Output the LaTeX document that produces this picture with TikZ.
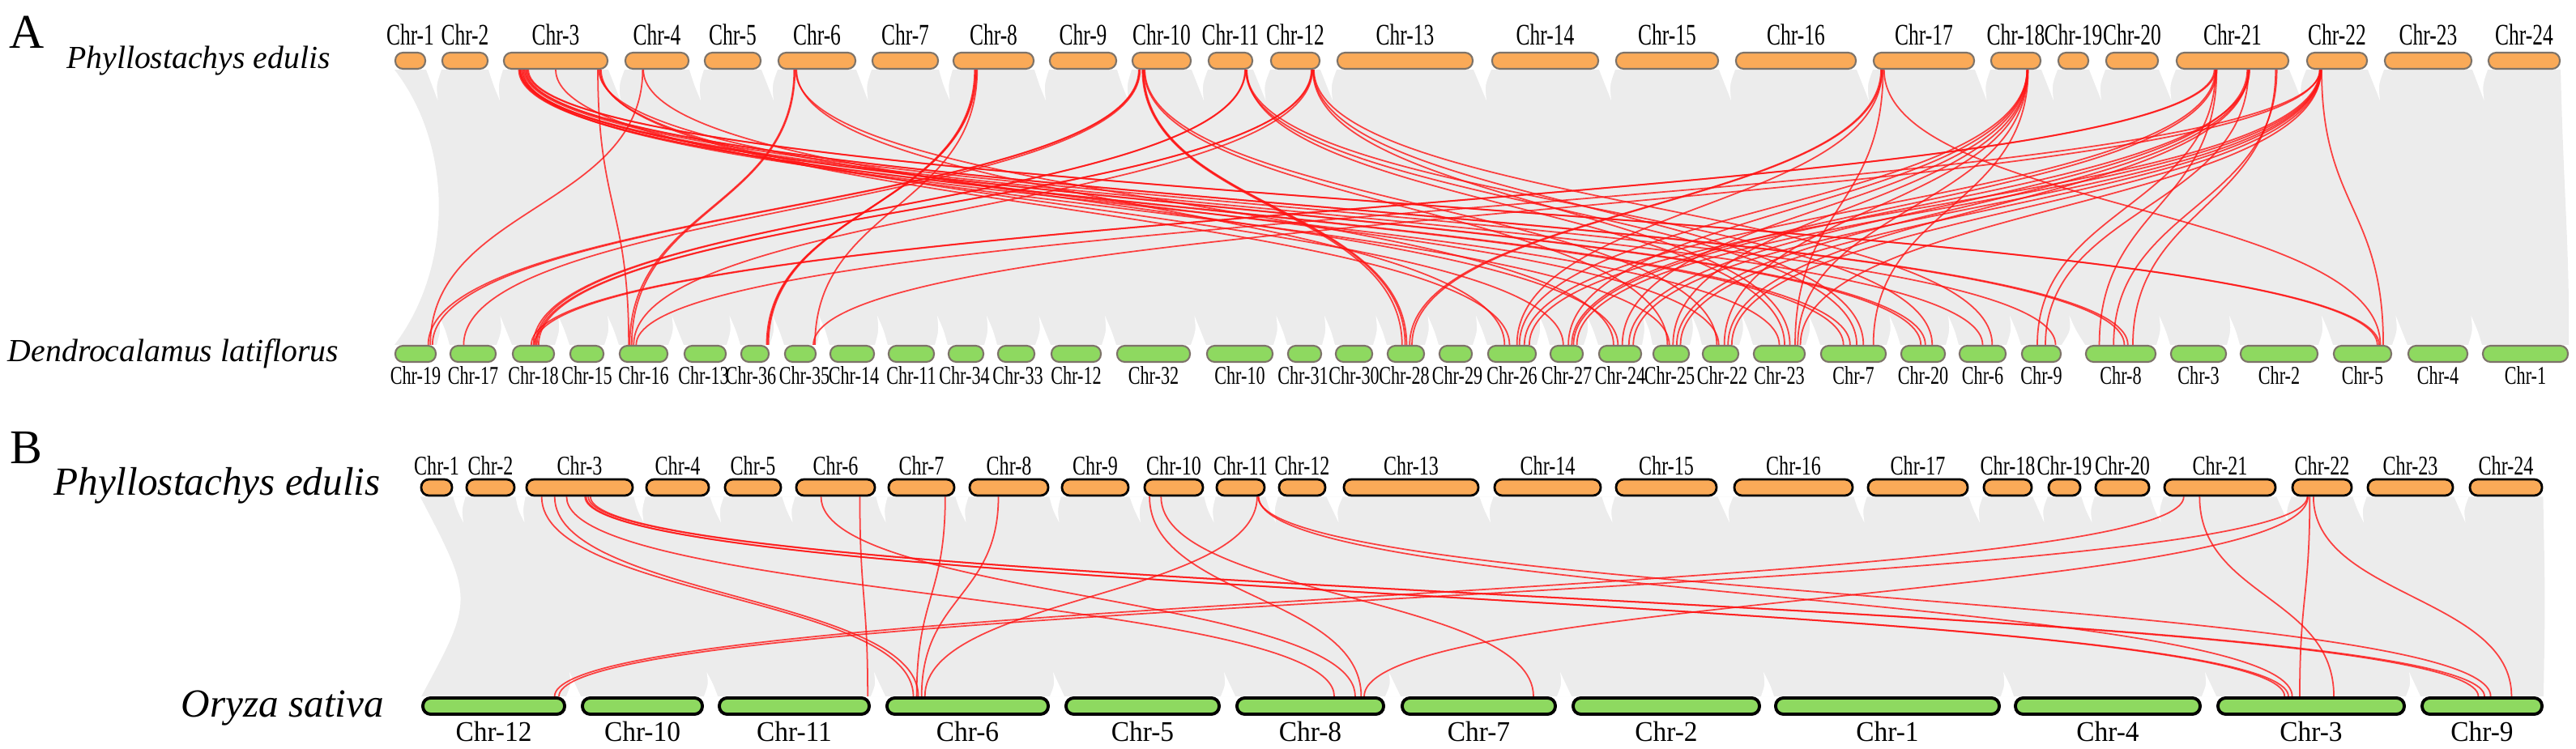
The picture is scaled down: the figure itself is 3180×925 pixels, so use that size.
\documentclass[tikz,border=0pt]{standalone}
\usepackage{fontspec}
\setmainfont{Liberation Serif}
\newfontfamily\chrnarrow[FakeStretch=0.69]{Liberation Serif}
\newfontfamily\chrsqueeze[FakeStretch=0.70]{Liberation Serif}
\newfontfamily\chrmid[FakeStretch=0.72]{Liberation Serif}
\newfontfamily\chrwide[FakeStretch=0.95]{Liberation Serif}
\usetikzlibrary{positioning,calc,backgrounds}
\definecolor{pheorange}{RGB}{250,170,88}
\definecolor{latigreen}{RGB}{142,217,96}
\definecolor{chredge}{RGB}{125,115,105}
\definecolor{ribbongray}{RGB}{236,236,236}
\definecolor{synred}{RGB}{255,20,20}

\tikzset{
  chrbox/.style={rectangle, rounded corners=0.095cm, minimum height=0.2cm, inner sep=0pt},
  peA/.style={chrbox, fill=pheorange, draw=chredge, line width=0.6pt},
  dlA/.style={chrbox, fill=latigreen, draw=chredge, line width=0.6pt},
  peB/.style={chrbox, fill=pheorange, draw=black, line width=0.8pt},
  osB/.style={chrbox, fill=latigreen, draw=black, line width=1.1pt},
  toplbl/.style={inner sep=0pt, font=\chrnarrow\fontsize{10.5}{10.5}\selectfont},
  botlbl/.style={inner sep=0pt, font=\chrsqueeze\fontsize{9}{9}\selectfont},
  toplblB/.style={inner sep=0pt, font=\chrmid\fontsize{9.5}{9.5}\selectfont},
  botlblB/.style={inner sep=0pt, font=\chrwide\fontsize{10}{10}\selectfont},
  species/.style={inner sep=0pt, font=\itshape\fontsize{11.3}{12}\selectfont},
  speciesB/.style={inner sep=0pt, font=\itshape\fontsize{14}{15}\selectfont},
  panel/.style={inner sep=0pt, font=\fontsize{17}{17}\selectfont},
  synline/.style={draw=synred, line width=0.5pt, opacity=0.8},
  ribbon/.style={fill=ribbongray},
}

% red collinear link between two chromosomes
\newcommand{\syn}[4]{%
  \path ($(#1.south west)!#2!(#1.south east)$) coordinate (s)
        ($(#3.north west)!#4!(#3.north east)$) coordinate (e);
  \draw[synline] (s) .. controls ($(s)!0.5!(s|-e)$) and ($(e)!0.5!(e|-s)$) .. (e);
}
% white notches between neighbouring blocks
\newcommand{\gapdown}[3]{%
  \path ($(#1.south east)!0.5!(#2.south west)$) coordinate (gm);
  \fill[white] (#1.south east) .. controls ($(gm)+(-3,{#3*0.5})$) .. ($(gm)+(5,#3)$)
    .. controls ($(gm)+(3,{#3*0.5})$) .. (#2.south west) -- cycle;
}
\newcommand{\gapup}[3]{%
  \path ($(#1.north east)!0.5!(#2.north west)$) coordinate (gm);
  \fill[white] (#1.north east) .. controls ($(gm)+(-3,{-#3*0.5})$) .. ($(gm)+(-5,-#3)$)
    .. controls ($(gm)+(3,{-#3*0.5})$) .. (#2.north west) -- cycle;
}

\begin{document}
\begin{tikzpicture}[x=0.01cm, y=-0.01cm]
    \useasboundingbox (0,0) rectangle (3180,925);

    % Panel A
    \node[panel] (lettera) at (33,40) {A};
    \node[species] (pheA) at (245,75) {Phyllostachys edulis};
    \node[species] (dla) at (214,437) {Dendrocalamus latiflorus};
    \foreach \n/\l/\r in {1/488/525, 2/546/602, 3/622/750, 4/772/850, 5/870/939,
        6/961/1056, 7/1077/1158, 8/1177/1276, 9/1296/1378, 10/1398/1470,
        11/1492/1546, 12/1569/1629, 13/1651/1818, 14/1842/1973, 15/1995/2121,
        16/2143/2291, 17/2313/2437, 18/2458/2519, 19/2541/2578, 20/2600/2664,
        21/2687/2825, 22/2848/2922, 23/2944/3051, 24/3072/3160} {
        \node[peA, minimum width={(\r-\l)*0.01cm}] (pa\n) at ({(\l+\r)/2},75) {};
        \node[toplbl, above=2pt of pa\n] {Chr-\n};
    }
    \foreach \n/\l/\r/\dx in {19/488/538/0, 17/556/612/0, 18/633/684/0, 15/704/745/0,
        16/765/824/0, 13/845/896/-2, 36/915/949/-5, 35/969/1007/5, 14/1025/1079/2,
        11/1097/1153/0, 34/1171/1214/-2, 33/1232/1277/2, 12/1298/1359/0,
        32/1379/1469/0, 10/1490/1571/0, 31/1590/1631/-2, 30/1649/1694/0,
        28/1713/1758/-2, 29/1777/1817/2, 26/1837/1896/0, 27/1914/1954/0,
        24/1974/2026/0, 25/2041/2085/-2, 22/2102/2146/2, 23/2165/2228/0,
        7/2248/2328/0, 20/2347/2401/0, 6/2419/2476/0, 9/2496/2544/0, 8/2575/2661/0,
        3/2680/2748/0, 2/2766/2861/0, 5/2881/2952/0, 4/2973/3046/0, 1/3065/3170/0} {
        \node[dlA, minimum width={(\r-\l)*0.01cm}] (da\n) at ({(\l+\r)/2},437) {};
        \node[botlbl, below=1pt of da\n, xshift=\dx*0.01cm] {Chr-\n};
    }

    % Panel B
    \node[panel] (letterb) at (32,553) {B};
    \node[speciesB] (pheB) at (268,600) {Phyllostachys edulis};
    \node[speciesB] (osa) at (349,875) {Oryza sativa};
    \foreach \n/\l/\r in {1/520/558, 2/576/635, 3/650/781, 4/798/875, 5/895/964,
        6/983/1080, 7/1097/1178, 8/1197/1294, 9/1311/1393, 10/1413/1485,
        11/1502/1561, 12/1579/1636, 13/1659/1825, 14/1845/1976, 15/1995/2119,
        16/2141/2287, 17/2306/2429, 18/2449/2508, 19/2529/2568, 20/2587/2653,
        21/2672/2809, 22/2830/2903, 23/2923/3028, 24/3049/3138} {
        \node[peB, minimum width={(\r-\l)*0.01cm}] (pb\n) at ({(\l+\r)/2},602) {};
        \node[toplblB, above=1pt of pb\n] {Chr-\n};
    }
    \foreach \n/\l/\r in {12/522/697, 10/719/867, 11/888/1073, 6/1095/1294,
        5/1316/1505, 8/1527/1708, 7/1731/1920, 2/1942/2172, 1/2192/2468,
        4/2488/2716, 3/2738/2968, 9/2990/3138} {
        \node[osB, minimum width={(\r-\l)*0.01cm}] (os\n) at ({(\l+\r)/2},872) {};
        \node[botlblB, below=1.7pt of os\n] {Chr-\n};
    }

    \begin{pgfonlayer}{background}
        % grey background blocks
        \fill[ribbon] (pa1.south west) -- (pa24.south east)
            .. controls (3165,250) and (3172,300) .. (da1.north east)
            -- (da19.north west) .. controls (560,330) and (560,180) .. (pa1.south west) -- cycle;
        \fill[ribbon] (pb1.south west) -- (pb24.south east)
            .. controls (3142,740) .. (os9.north east)
            -- (os12.north west) .. controls (585,740) .. (pb1.south west) -- cycle;
        \foreach \i [evaluate=\i as \j using int(\i+1)] in {1,...,23} {
            \gapdown{pa\i}{pa\j}{38}
            \gapdown{pb\i}{pb\j}{32}
        }
        \foreach \a/\b in {19/17, 17/18, 18/15, 15/16, 16/13, 13/36, 36/35, 35/14,
            14/11, 11/34, 34/33, 33/12, 12/32, 32/10, 10/31, 31/30, 30/28, 28/29,
            29/26, 26/27, 27/24, 24/25, 25/22, 22/23, 23/7, 7/20, 20/6, 6/9, 9/8,
            8/3, 3/2, 2/5, 5/4, 4/1} {
            \gapup{da\a}{da\b}{36}
        }
        \foreach \a/\b in {12/10, 10/11, 11/6, 6/5, 5/8, 8/7, 7/2, 2/1, 1/4, 4/3, 3/9} {
            \gapup{os\a}{os\b}{30}
        }

        % collinear pairs, panel A
        \foreach \a/\p/\b/\q in {pa3/.15/da7/.35, pa3/.16/da7/.45, pa3/.17/da20/.45,
            pa3/.18/da20/.55, pa3/.16/da6/.50, pa3/.19/da23/.50, pa3/.20/da9/.85,
            pa3/.21/da8/.55, pa3/.22/da8/.60, pa3/.23/da5/.75, pa3/.24/da5/.78,
            pa3/.50/da25/.45, pa3/.90/da16/.20, pa3/.91/da22/.45, pa3/.92/da27/.40,
            pa3/.93/da26/.45, pa4/.28/da19/.85, pa4/.29/da24/.45,
            pa6/.21/da16/.22, pa6/.22/da16/.26, pa6/.23/da24/.35, pa6/.24/da26/.35,
            pa8/.27/da36/.93, pa8/.28/da36/.96, pa8/.29/da36/.90, pa8/.30/da35/.95,
            pa10/.12/da19/.80, pa10/.13/da19/.90, pa10/.14/da17/.30, pa10/.18/da28/.40,
            pa10/.19/da28/.48, pa10/.20/da28/.52, pa10/.21/da25/.40, pa10/.22/da22/.40,
            pa11/.82/da18/.50, pa11/.83/da18/.55, pa11/.84/da7/.55, pa11/.85/da20/.70,
            pa11/.86/da23/.60, pa12/.82/da18/.58, pa12/.83/da18/.62, pa12/.84/da16/.30,
            pa12/.85/da23/.70, pa12/.86/da7/.65, pa12/.87/da6/.70,
            pa17/.08/da28/.60, pa17/.09/da28/.66, pa17/.09/da26/.60, pa17/.10/da23/.80,
            pa17/.11/da5/.80, pa18/.72/da26/.65, pa18/.72/da27/.55, pa18/.72/da24/.55,
            pa18/.73/da25/.55, pa18/.73/da22/.60, pa18/.73/da23/.85, pa18/.74/da7/.80,
            pa21/.34/da18/.45, pa21/.35/da18/.52, pa21/.35/da26/.75, pa21/.36/da27/.65,
            pa21/.35/da9/.40, pa21/.36/da8/.20, pa21/.63/da24/.70, pa21/.64/da25/.65,
            pa21/.64/da22/.70, pa21/.65/da27/.70, pa21/.64/da9/.60, pa21/.88/da8/.67,
            pa21/.89/da8/.40, pa22/.22/da26/.85, pa22/.23/da27/.80, pa22/.23/da24/.80,
            pa22/.23/da25/.75, pa22/.24/da22/.80, pa22/.24/da23/.90, pa22/.22/da35/.90,
            pa22/.23/da16/.35, pa22/.25/da5/.85} {
            \syn{\a}{\p}{\b}{\q}
        }
        % collinear pairs, panel B
        \foreach \a/\p/\b/\q in {pb3/.15/os6/.17, pb3/.27/os6/.20, pb3/.38/os8/.66,
            pb3/.55/os3/.36, pb3/.56/os3/.38, pb3/.58/os9/.47, pb3/.60/os9/.52,
            pb6/.32/os8/.80, pb6/.80/os11/.98, pb7/.85/os6/.19, pb8/.37/os6/.22,
            pb10/.10/os8/.84, pb10/.29/os7/.85, pb11/.83/os6/.24, pb11/.85/os9/.57,
            pb11/.86/os3/.40, pb21/.18/os12/.92, pb21/.32/os3/.62, pb22/.26/os12/.95,
            pb22/.27/os8/.86, pb22/.30/os3/.44, pb22/.36/os9/.74} {
            \syn{\a}{\p}{\b}{\q}
        }
    \end{pgfonlayer}
\end{tikzpicture}
\end{document}
